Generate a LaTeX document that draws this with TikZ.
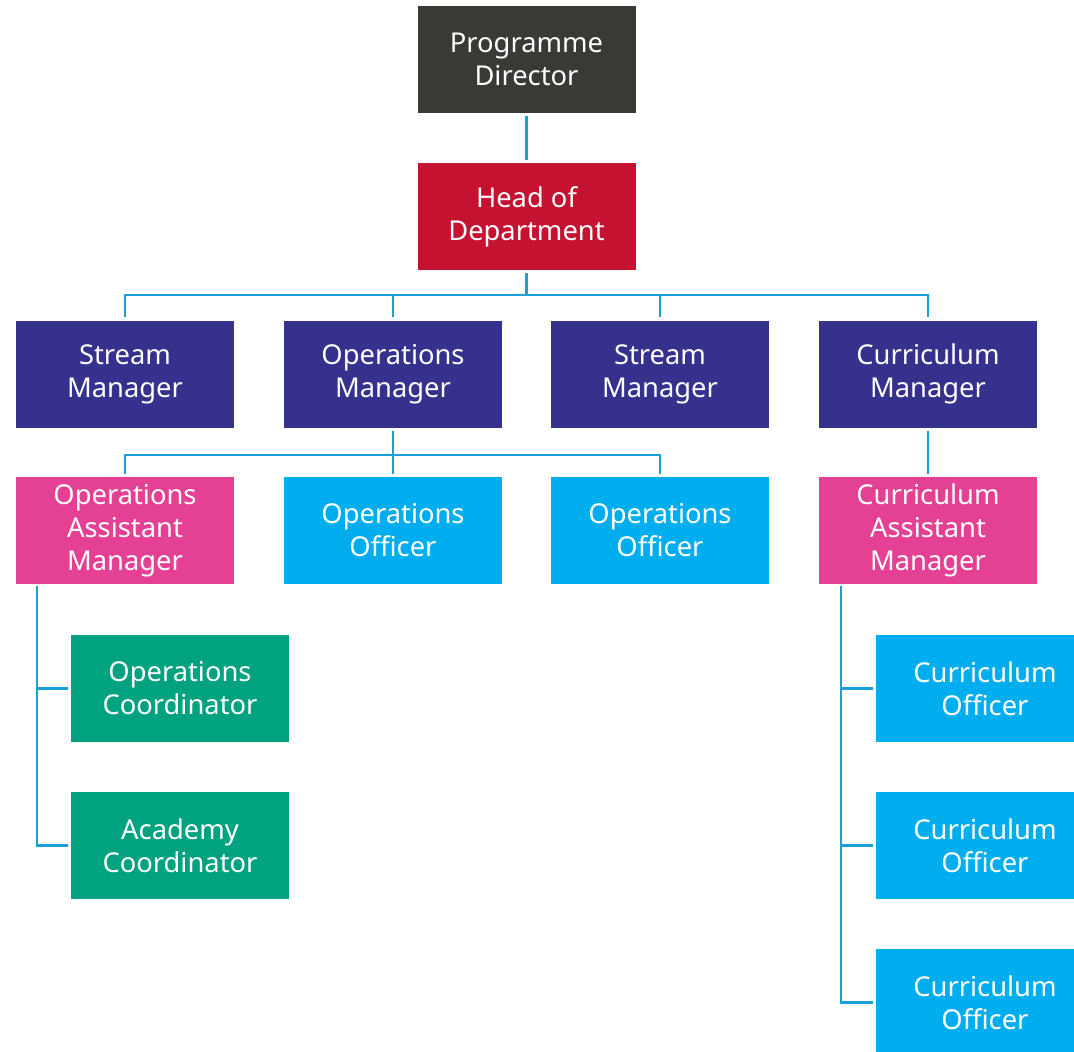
\documentclass[tikz,border=0pt]{standalone}
\usepackage{fontspec}
\setmainfont{Noto Sans}
\definecolor{cdark}{HTML}{393A35}
\definecolor{cred}{HTML}{C41230}
\definecolor{cnavy}{HTML}{35318D}
\definecolor{cpink}{HTML}{E54194}
\definecolor{ccyan}{HTML}{00ADEE}
\definecolor{cgreen}{HTML}{00A27F}
\definecolor{cline}{HTML}{1AA0D8}
\begin{document}
\begin{tikzpicture}[x=0.75pt,y=-0.75pt,
  box/.style={fill=#1,text=white,minimum width=163.5pt,minimum height=80.25pt,inner sep=0pt,align=center,
    font=\fontsize{20.5pt}{24.75pt}\selectfont},
  conn/.style={draw=cline,line width=2pt},
  gap/.style={shorten <=2.25pt,shorten >=2.25pt}]
\useasboundingbox (0,0) rectangle (1074,1052);
\node[box=cdark] (pd) at (526.5,59.5) {Programme\\Director};
\node[box=cred] (hod) at (526.5,216.5) {Head of\\Department};
\node[box=cnavy] (sm1) at (125,374) {Stream\\Manager};
\node[box=cnavy] (om) at (393,374) {Operations\\Manager};
\node[box=cnavy] (sm2) at (660,374) {Stream\\Manager};
\node[box=cnavy] (cm) at (928,374) {Curriculum\\Manager};
\node[box=cpink] (oam) at (125,530.5) {Operations\\Assistant\\Manager};
\node[box=ccyan] (oo1) at (393,530.5) {Operations\\Officer};
\node[box=ccyan] (oo2) at (660,530.5) {Operations\\Officer};
\node[box=cpink] (cam) at (928,530.5) {Curriculum\\Assistant\\Manager};
\node[box=cgreen] (oc) at (180,688.5) {Operations\\Coordinator};
\node[box=cgreen] (ac) at (180,845.5) {Academy\\Coordinator};
\node[box=ccyan] (co1) at (985,688.5) {Curriculum\\Officer};
\node[box=ccyan] (co2) at (985,845.5) {Curriculum\\Officer};
\node[box=ccyan] (co3) at (985,1002.5) {Curriculum\\Officer};
% connectors
\draw[conn,gap] (pd.south) -- (hod.north);
\coordinate (b1) at (526.5,295);
\coordinate (b2) at (393,455);
\coordinate (o1) at (37,586);
\coordinate (c1) at (841,586);
\draw[conn,shorten <=2.25pt] (hod.south) -- (b1);
\draw[conn,shorten >=2.25pt] (b1) -| (sm1.north);
\draw[conn,shorten >=2.25pt] (b1) -| (cm.north);
\draw[conn,shorten >=2.25pt] (b1) -| (om.north);
\draw[conn,shorten >=2.25pt] (b1) -| (sm2.north);
\draw[conn,shorten <=2.25pt] (om.south) -- (b2);
\draw[conn,shorten >=2.25pt] (b2) -| (oam.north);
\draw[conn,shorten >=2.25pt] (b2) -| (oo2.north);
\draw[conn,shorten >=2.25pt] (b2) -- (oo1.north);
\draw[conn,gap] (cm.south) -- (cam.north);
\draw[conn,shorten >=2.25pt] (o1) |- (ac.west);
\draw[conn,shorten >=2.25pt] (o1 |- oc.west) -- (oc.west);
\draw[conn,shorten >=2.25pt] (c1) |- (co3.west);
\draw[conn,shorten >=2.25pt] (c1 |- co1.west) -- (co1.west);
\draw[conn,shorten >=2.25pt] (c1 |- co2.west) -- (co2.west);
\end{tikzpicture}
\end{document}
